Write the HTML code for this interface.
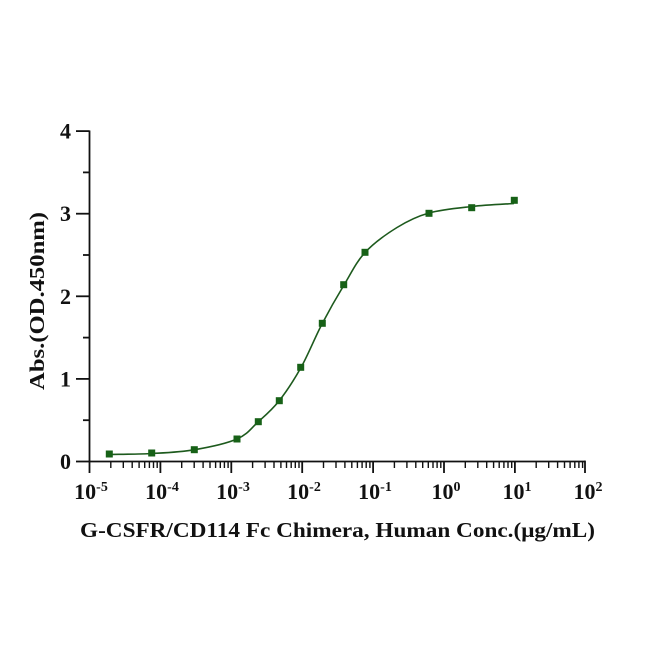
<!DOCTYPE html>
<html>
<head>
<meta charset="utf-8">
<style>
  html,body{margin:0;padding:0;background:#fff;}
  svg{display:block;}
  text{font-family:"Liberation Serif","Times New Roman",serif;font-weight:bold;fill:#111;}
</style>
</head>
<body>
<svg width="654" height="654" viewBox="0 0 654 654" xmlns="http://www.w3.org/2000/svg">
  <rect width="654" height="654" fill="#fff"/>
  <!-- axes -->
  <g stroke="#111" stroke-width="1.8" fill="none">
    <line x1="89.5" y1="130.5" x2="89.5" y2="473"/>
    <line x1="89.5" y1="461.5" x2="585" y2="461.5"/>
    <line x1="76" y1="461.5" x2="89.5" y2="461.5"/>
    <line x1="76" y1="378.9" x2="89.5" y2="378.9"/>
    <line x1="76" y1="296.3" x2="89.5" y2="296.3"/>
    <line x1="76" y1="213.7" x2="89.5" y2="213.7"/>
    <line x1="76" y1="131.1" x2="89.5" y2="131.1"/>
    <line x1="83" y1="420.2" x2="89.5" y2="420.2"/>
    <line x1="83" y1="337.6" x2="89.5" y2="337.6"/>
    <line x1="83" y1="255" x2="89.5" y2="255"/>
    <line x1="83" y1="172.4" x2="89.5" y2="172.4"/>
    <line x1="160.4" y1="461.5" x2="160.4" y2="473"/>
    <line x1="231.3" y1="461.5" x2="231.3" y2="473"/>
    <line x1="302.2" y1="461.5" x2="302.2" y2="473"/>
    <line x1="373.1" y1="461.5" x2="373.1" y2="473"/>
    <line x1="444" y1="461.5" x2="444" y2="473"/>
    <line x1="514.9" y1="461.5" x2="514.9" y2="473"/>
    <line x1="585" y1="460.6" x2="585" y2="473"/>
  </g>
  <g stroke="#111" stroke-width="1.4">
    <line x1="110.8" y1="461.5" x2="110.8" y2="468"/><line x1="123.3" y1="461.5" x2="123.3" y2="468"/><line x1="132.2" y1="461.5" x2="132.2" y2="468"/><line x1="139.1" y1="461.5" x2="139.1" y2="468"/><line x1="144.7" y1="461.5" x2="144.7" y2="468"/><line x1="149.4" y1="461.5" x2="149.4" y2="468"/><line x1="153.5" y1="461.5" x2="153.5" y2="468"/><line x1="157.2" y1="461.5" x2="157.2" y2="468"/>
    <line x1="181.7" y1="461.5" x2="181.7" y2="468"/><line x1="194.2" y1="461.5" x2="194.2" y2="468"/><line x1="203.1" y1="461.5" x2="203.1" y2="468"/><line x1="210" y1="461.5" x2="210" y2="468"/><line x1="215.6" y1="461.5" x2="215.6" y2="468"/><line x1="220.3" y1="461.5" x2="220.3" y2="468"/><line x1="224.4" y1="461.5" x2="224.4" y2="468"/><line x1="228.1" y1="461.5" x2="228.1" y2="468"/>
    <line x1="252.6" y1="461.5" x2="252.6" y2="468"/><line x1="265.1" y1="461.5" x2="265.1" y2="468"/><line x1="274" y1="461.5" x2="274" y2="468"/><line x1="280.9" y1="461.5" x2="280.9" y2="468"/><line x1="286.5" y1="461.5" x2="286.5" y2="468"/><line x1="291.2" y1="461.5" x2="291.2" y2="468"/><line x1="295.3" y1="461.5" x2="295.3" y2="468"/><line x1="299" y1="461.5" x2="299" y2="468"/>
    <line x1="323.5" y1="461.5" x2="323.5" y2="468"/><line x1="336" y1="461.5" x2="336" y2="468"/><line x1="344.9" y1="461.5" x2="344.9" y2="468"/><line x1="351.8" y1="461.5" x2="351.8" y2="468"/><line x1="357.4" y1="461.5" x2="357.4" y2="468"/><line x1="362.1" y1="461.5" x2="362.1" y2="468"/><line x1="366.2" y1="461.5" x2="366.2" y2="468"/><line x1="369.9" y1="461.5" x2="369.9" y2="468"/>
    <line x1="394.4" y1="461.5" x2="394.4" y2="468"/><line x1="406.9" y1="461.5" x2="406.9" y2="468"/><line x1="415.8" y1="461.5" x2="415.8" y2="468"/><line x1="422.7" y1="461.5" x2="422.7" y2="468"/><line x1="428.3" y1="461.5" x2="428.3" y2="468"/><line x1="433" y1="461.5" x2="433" y2="468"/><line x1="437.1" y1="461.5" x2="437.1" y2="468"/><line x1="440.8" y1="461.5" x2="440.8" y2="468"/>
    <line x1="465.3" y1="461.5" x2="465.3" y2="468"/><line x1="477.8" y1="461.5" x2="477.8" y2="468"/><line x1="486.7" y1="461.5" x2="486.7" y2="468"/><line x1="493.6" y1="461.5" x2="493.6" y2="468"/><line x1="499.2" y1="461.5" x2="499.2" y2="468"/><line x1="503.9" y1="461.5" x2="503.9" y2="468"/><line x1="508" y1="461.5" x2="508" y2="468"/><line x1="511.7" y1="461.5" x2="511.7" y2="468"/>
    <line x1="536.2" y1="461.5" x2="536.2" y2="468"/><line x1="548.7" y1="461.5" x2="548.7" y2="468"/><line x1="557.6" y1="461.5" x2="557.6" y2="468"/><line x1="564.5" y1="461.5" x2="564.5" y2="468"/><line x1="570.1" y1="461.5" x2="570.1" y2="468"/><line x1="574.8" y1="461.5" x2="574.8" y2="468"/><line x1="578.9" y1="461.5" x2="578.9" y2="468"/><line x1="582.6" y1="461.5" x2="582.6" y2="468"/>
  </g>

  <!-- y tick labels -->
  <g font-size="22" text-anchor="end">
    <text x="71" y="469">0</text>
    <text x="71" y="386.4">1</text>
    <text x="71" y="303.8">2</text>
    <text x="71" y="221.2">3</text>
    <text x="71" y="138.6">4</text>
  </g>

  <!-- x tick labels -->
  <g font-size="22" text-anchor="middle">
    <text x="91" y="499">10<tspan font-size="14" dy="-8">-5</tspan></text>
    <text x="162" y="499">10<tspan font-size="14" dy="-8">-4</tspan></text>
    <text x="233" y="499">10<tspan font-size="14" dy="-8">-3</tspan></text>
    <text x="304" y="499">10<tspan font-size="14" dy="-8">-2</tspan></text>
    <text x="375" y="499">10<tspan font-size="14" dy="-8">-1</tspan></text>
    <text x="446" y="499">10<tspan font-size="14" dy="-8">0</tspan></text>
    <text x="517" y="499">10<tspan font-size="14" dy="-8">1</tspan></text>
    <text x="588" y="499">10<tspan font-size="14" dy="-8">2</tspan></text>
  </g>

  <!-- axis titles -->
  <text x="337.5" y="537" font-size="21" text-anchor="middle" textLength="515" lengthAdjust="spacingAndGlyphs">G-CSFR/CD114 Fc Chimera, Human Conc.(μg/mL)</text>
  <text x="0" y="0" font-size="21" text-anchor="middle" textLength="178" lengthAdjust="spacingAndGlyphs" transform="translate(44,301) rotate(-90)">Abs.(OD.450nm)</text>

  <!-- fitted curve -->
  <path fill="none" stroke="#1d5a1d" stroke-width="1.6"
    d="M109,454.5 C116.2,454.3 137.8,454.3 152,453.5
       C166.2,452.7 179.8,452.2 194,449.8
       C208.2,447.4 226.3,443.6 237,439
       C247.7,434.4 251,428.3 258,422
       C265,415.7 271.8,410.1 279,401
       C286.2,391.9 293.8,380.3 301,367.5
       C308.2,354.7 314.8,337.75 322,324
       C329.2,310.25 336.8,296.9 344,285
       C351.2,273.1 356.2,262.1 365,252.5
       C373.8,242.9 386.3,234.1 397,227.5
       C407.7,220.9 416.5,216.5 429,213
       C441.5,209.5 457.8,208.1 472,206.5
       C486.2,204.9 507,204 514,203.5"/>

  <!-- data markers -->
  <g fill="#176117">
    <rect x="105.8" y="450.5" width="7" height="7"/>
    <rect x="148.2" y="449.5" width="7" height="7"/>
    <rect x="190.8" y="446.2" width="7" height="7"/>
    <rect x="233.5" y="435.5" width="7" height="7"/>
    <rect x="254.8" y="418.2" width="7" height="7"/>
    <rect x="275.8" y="397.2" width="7" height="7"/>
    <rect x="297.2" y="363.8" width="7" height="7"/>
    <rect x="318.8" y="319.8" width="7" height="7"/>
    <rect x="340.2" y="281.2" width="7" height="7"/>
    <rect x="361.5" y="248.8" width="7" height="7"/>
    <rect x="425.5" y="209.8" width="7" height="7"/>
    <rect x="468.2" y="204.2" width="7" height="7"/>
    <rect x="510.8" y="196.8" width="7" height="7"/>
  </g>
</svg>
</body>
</html>
